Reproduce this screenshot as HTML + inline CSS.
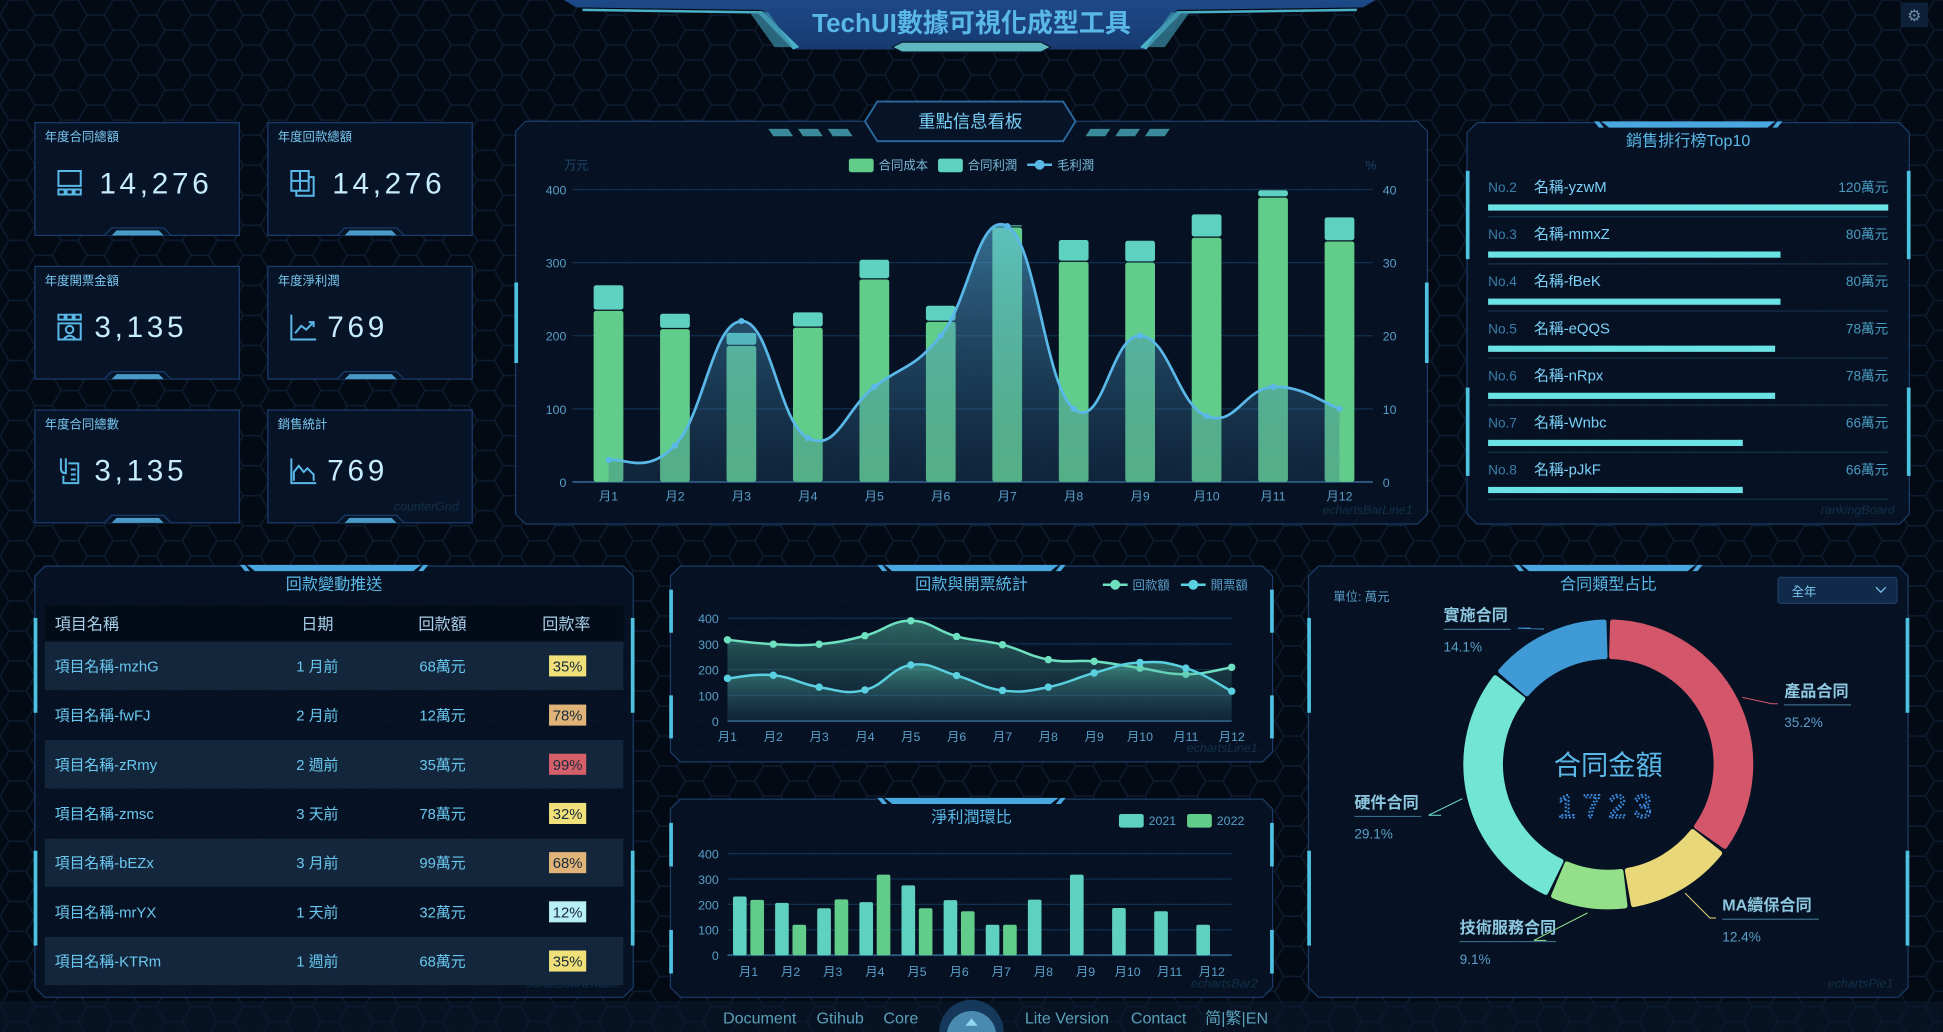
<!DOCTYPE html>
<html><head><meta charset="utf-8"><title>TechUI</title>
<style>
html,body{margin:0;padding:0;background:#040a14;overflow:hidden;width:1943px;height:1032px}
svg{display:block}
text{font-family:"Liberation Sans","Noto Sans CJK TC",sans-serif}
</style></head>
<body>
<svg id="root" width="1943" height="1032" viewBox="0 0 1568 833" xmlns="http://www.w3.org/2000/svg">
<defs>
<pattern id="hex" width="42" height="24.25" patternUnits="userSpaceOnUse">
<path d="M0 12.1 L7 0 L21 0 L28 12.1 L21 24.25 L7 24.25 Z M28 12.1 L42 12.1" fill="none" stroke="#0d1c30" stroke-width="1.2"/>
</pattern>
<linearGradient id="areaMain" x1="0" y1="0" x2="0" y2="1"><stop offset="0" stop-color="#5ab8e8" stop-opacity="0.55"/><stop offset="1" stop-color="#2a5a80" stop-opacity="0.25"/></linearGradient>
<linearGradient id="areaLine" x1="0" y1="0" x2="0" y2="1"><stop offset="0" stop-color="#5fd1b0" stop-opacity="0.45"/><stop offset="1" stop-color="#2a5070" stop-opacity="0.15"/></linearGradient>
<linearGradient id="hdr" x1="0" y1="0" x2="0" y2="1"><stop offset="0" stop-color="#1d4a88"/><stop offset="1" stop-color="#173a70"/></linearGradient>
</defs>
<rect x="0" y="0" width="1568" height="833" fill="#040a14"/>
<rect x="0" y="0" width="1568" height="833" fill="url(#hex)"/>
<rect x="0" y="808" width="1568" height="25" fill="#0a1a30" opacity="0.5"/>

<g>
<path d="M455 0 L1110 0 L1100 6 L950 8 L925 40 L640 40 L615 8 L465 6 Z" fill="url(#hdr)"/>
<path d="M470 7 L615 9 L645 38 L640 40 L612 11 L470 9 Z" fill="#4ab0c8"/>
<path d="M1095 7 L950 9 L920 38 L925 40 L953 11 L1095 9 Z" fill="#4ab0c8"/>
<path d="M605 10 L620 10 L640 38 L625 38 Z" fill="#3c8ea8" opacity="0.7"/>
<path d="M960 10 L945 10 L925 38 L940 38 Z" fill="#3c8ea8" opacity="0.7"/>
<path d="M720 38 L728 34 L840 34 L848 38 L840 42 L728 42 Z" fill="#5fb8c0" stroke="#0a1a30"/>
<text x="784" y="26" text-anchor="middle" font-size="21" fill="#5ab8e8" font-weight="bold">TechUI數據可視化成型工具</text>
</g>
<g><rect x="1534" y="2" width="22" height="20" fill="#0e2038"/><text x="1545" y="17" text-anchor="middle" font-size="13" fill="#6a8aa8">⚙</text></g>

<g id="cards"></g>
<g id="mainPanel"></g>
<g id="rankPanel"></g>
<g id="tablePanel"></g>
<g id="linePanel"></g>
<g id="bar2Panel"></g>
<g id="piePanel"></g>

<g>
<text x="613" y="826" text-anchor="middle" font-size="13" fill="#5aa0b8">Document</text>
<text x="678" y="826" text-anchor="middle" font-size="13" fill="#5aa0b8">Gtihub</text>
<text x="727" y="826" text-anchor="middle" font-size="13" fill="#5aa0b8">Core</text>
<circle cx="784" cy="833" r="26" fill="#16385a"/>
<circle cx="784" cy="836" r="20" fill="#4a8ab0"/>
<path d="M779 828 L784 822 L789 828 Z" fill="#8fd8f0"/>
<text x="861" y="826" text-anchor="middle" font-size="13" fill="#5aa0b8">Lite Version</text>
<text x="935" y="826" text-anchor="middle" font-size="13" fill="#5aa0b8">Contact</text>
<text x="998" y="826" text-anchor="middle" font-size="13" fill="#5aa0b8">简|繁|EN</text>
</g>
</svg>

<script>
const months = ['月1','月2','月3','月4','月5','月6','月7','月8','月9','月10','月11','月12'];
const costValues = [234,209,186,211,277,219,348,301,300,334,389,329];
const profitValues = [35,21,18,21,27,22,3,30,30,32,10,33];
const marginValues = [3,5,22,6,13,20,35,10,20,9,13,10];
const leftTicks = [0,100,200,300,400];
const rightTicks = [0,10,20,30,40];
const paybackValues = [316,299,299,332,390,329,297,239,232,206,182,209];
const invoiceValues = [166,178,132,121,218,177,119,132,187,228,206,116];
const lineTicks = [0,100,200,300,400];
const net2021 = [231,206,185,209,275,217,120,219,317,186,173,120];
const net2022 = [218,120,220,317,185,173,120,0,0,0,0,0];
const rankNames = ['名稱-yzwM','名稱-mmxZ','名稱-fBeK','名稱-eQQS','名稱-nRpx','名稱-Wnbc','名稱-pJkF'];
const rankNos = ['No.2','No.3','No.4','No.5','No.6','No.7','No.8'];
const rankValues = [120,80,80,78,78,66,66];
const tableNames = ['項目名稱-mzhG','項目名稱-fwFJ','項目名稱-zRmy','項目名稱-zmsc','項目名稱-bEZx','項目名稱-mrYX','項目名稱-KTRm'];
const tableDates = ['1 月前','2 月前','2 週前','3 天前','3 月前','1 天前','1 週前'];
const tableAmounts = ['68萬元','12萬元','35萬元','78萬元','99萬元','32萬元','68萬元'];
const tableRates = [35,78,99,32,68,12,35];
const pieNames = ['產品合同','MA續保合同','技術服務合同','硬件合同','實施合同'];
const pieValues = [35.2,12.4,9.1,29.1,14.1];
const cardTitles = ['年度合同總額','年度回款總額','年度開票金額','年度淨利潤','年度合同總數','銷售統計'];
const cardValues = ['14,276','14,276','3,135','769','3,135','769'];

const NS='http://www.w3.org/2000/svg';
function E(tag,attrs,parent,txt){const e=document.createElementNS(NS,tag);for(const k in attrs)e.setAttribute(k,attrs[k]);if(txt!==undefined)e.textContent=txt;parent.appendChild(e);return e;}
function smooth(pts){let d='M'+pts[0][0]+' '+pts[0][1];for(let i=0;i<pts.length-1;i++){const p0=pts[i-1]||pts[i],p1=pts[i],p2=pts[i+1],p3=pts[i+2]||p2;const t=0.22;const c1=[p1[0]+(p2[0]-p0[0])*t,p1[1]+(p2[1]-p0[1])*t];const c2=[p2[0]-(p3[0]-p1[0])*t,p2[1]-(p3[1]-p1[1])*t];d+=' C'+c1[0]+' '+c1[1]+' '+c2[0]+' '+c2[1]+' '+p2[0]+' '+p2[1];}return d;}

function panel(g,x,y,w,h,title,name,wm,midOnly){
  const p=E('path',{d:`M${x+8} ${y} L${x+w-8} ${y} L${x+w} ${y+8} L${x+w} ${y+h-8} L${x+w-8} ${y+h} L${x+8} ${y+h} L${x} ${y+h-8} L${x} ${y+8} Z`,fill:'#071326','fill-opacity':'0.88',stroke:'#1b3c68','stroke-width':'1'},g);
  
  
  if(midOnly){
    E('rect',{x:x-1,y:y+h*0.4,width:3,height:h*0.2,fill:'#4ec0e0'},g);
    E('rect',{x:x+w-2,y:y+h*0.4,width:3,height:h*0.2,fill:'#4ec0e0'},g);
  } else {
  E('rect',{x:x-1,y:y+h*0.12,width:3,height:h*0.22,fill:'#4ec0e0'},g);
  E('rect',{x:x+w-2,y:y+h*0.12,width:3,height:h*0.22,fill:'#4ec0e0'},g);
  E('rect',{x:x-1,y:y+h*0.66,width:3,height:h*0.22,fill:'#4ec0e0'},g);
  E('rect',{x:x+w-2,y:y+h*0.66,width:3,height:h*0.22,fill:'#4ec0e0'},g);
  }
  if(title){const cx=x+w/2;
    E('path',{d:`M${cx-70} ${y-1} L${cx+70} ${y-1} L${cx+64} ${y+4} L${cx-64} ${y+4} Z`,fill:'#4aa8e0'},g);
    E('path',{d:`M${cx-76} ${y-1} L${cx-72} ${y-1} L${cx-68} ${y+4} L${cx-72} ${y+4} Z M${cx+76} ${y-1} L${cx+72} ${y-1} L${cx+68} ${y+4} L${cx+72} ${y+4} Z`,fill:'#4aa8e0'},g);
    const t=E('text',{x:cx,y:y+19,'text-anchor':'middle','font-size':13,fill:'#5ab8e8'},g,title);
    
    
  }
  if(wm){E('text',{x:x+w-12,y:y+h-8,'text-anchor':'end','font-size':10,'font-style':'italic',fill:'#14304a'},g,wm);}
}

(function(){
  const g=document.getElementById('cards');
  const xs=[28,216],ys=[99,215,331];
  const icons=[
    'M0 0 H18 V12 H0 Z M0 15 H5 V19 H0 Z M6.5 15 H11.5 V19 H6.5 Z M13 15 H18 V19 H13 Z',
    'M0 0 H14 V5 H18 V20 H4 V16 H0 Z M0 8 H14 M7 0 V16 M4 16 H14 V5',
    'M0 0 H5 V4 H0 Z M6.5 0 H11.5 V4 H6.5 Z M13 0 H18 V4 H13 Z M0 7 H18 V20 H0 Z M6 12 A3 3 0 1 0 12 12 A3 3 0 1 0 6 12 M4 20 Q9 14 14 20',
    'M0 0 V20 H20 M3 15 L8 9 L12 12 L18 6 M14 6 H18 V10',
    'M2 0 V8 Q2 12 6 12 V0 M8 4 H16 V20 H4 V14 M10 9 H14 M10 13 H14 M10 17 H14',
    'M0 0 V20 H20 M2 18 V11 L6 6 L10 11 L13 8 L18 13 V18'
  ];
  for(let i=0;i<6;i++){
    const x=xs[i%2],y=ys[Math.floor(i/2)];
    const c=E('g',{},g);
    
    
    E('rect',{x:x,y:y,width:165,height:91,fill:'#071428',stroke:'#1a3c6a'},c);
    E('path',{d:`M${x+56} ${y+91} L${x+62} ${y+85} L${x+104} ${y+85} L${x+110} ${y+91}`,fill:'#071428',stroke:'#1a3c6a'},c);
    E('path',{d:`M${x+62} ${y+91} L${x+66} ${y+87} L${x+100} ${y+87} L${x+104} ${y+91} Z`,fill:'#4a9ac8'},c);
    const t=E('text',{x:x+8,y:y+15,'font-size':10,fill:'#7ac8f0'},c,cardTitles[i]);
    
    
    const ic=E('path',{d:icons[i],transform:`translate(${x+19},${y+39})`,fill:'none',stroke:'#5ab8e8','stroke-width':1.6},c);
    
    
    const v=E('text',{x:x+(i<2?52:48),y:y+57,'font-size':24,fill:'#c8ecff','letter-spacing':3,'font-family':'"DejaVu Sans",sans-serif'},c,cardValues[i]);
    
    
  }
  E('text',{x:370,y:412,'text-anchor':'end','font-size':10,'font-style':'italic',fill:'#14304a'},g,'counterGrid');
})();

(function(){
  const g=document.getElementById('mainPanel');
  panel(g,416,98,736,325,null,'main-panel','echartsBarLine1',true);
  E('path',{d:'M708 82 L858 82 L868 98 L858 114 L708 114 L698 98 Z',fill:'#071326',stroke:'#2a6aa0','stroke-width':1.5},g);
  E('path',{d:'M620 104 L636 104 L640 110 L624 110 Z M644 104 L660 104 L664 110 L648 110 Z M668 104 L684 104 L688 110 L672 110 Z',fill:'#3a8a9a'},g);
  E('path',{d:'M880 104 L896 104 L892 110 L876 110 Z M904 104 L920 104 L916 110 L900 110 Z M928 104 L944 104 L940 110 L924 110 Z',fill:'#3a8a9a'},g);
  const tt=E('text',{x:783,y:103,'text-anchor':'middle','font-size':14,fill:'#7ad0f8'},g,'重點信息看板');
  
  
  const x0=491,dx=53.64,yb=389,H=236;
  const X=i=>x0+i*dx, YL=v=>yb-v/400*H, YR=v=>yb-v/40*H;
  leftTicks.forEach(v=>{E('line',{x1:462,x2:1108,y1:YL(v),y2:YL(v),stroke:'#13304e','stroke-width':1},g);
    E('text',{x:457,y:YL(v)+4,'text-anchor':'end','font-size':10,fill:'#5a9ec8'},g,v);});
  rightTicks.forEach(v=>{E('text',{x:1116,y:YR(v)+4,'font-size':10,fill:'#5a9ec8'},g,v);});
  E('line',{x1:462,x2:1108,y1:yb,y2:yb,stroke:'#2a5a80','stroke-width':1.5},g);
  E('text',{x:455,y:137,'font-size':10,fill:'#1d4668'},g,'万元');
  E('text',{x:1102,y:137,'font-size':10,fill:'#1d4668'},g,'%');
  months.forEach((m,i)=>{const t=E('text',{x:X(i),y:404,'text-anchor':'middle','font-size':10,fill:'#5a9ec8'},g,m);
    
    });
  months.forEach((m,i)=>{
    const bw=24;
    const c=E('rect',{x:X(i)-bw/2,y:YL(costValues[i]),width:bw,height:YL(0)-YL(costValues[i]),fill:'#62cc8a',rx:2},g);
    
    
    const p=E('rect',{x:X(i)-bw/2,y:YL(costValues[i]+profitValues[i]),width:bw,height:YL(costValues[i])-YL(costValues[i]+profitValues[i])-1,fill:'#5fd1c0',rx:2},g);
    
    
  });
  const pts=marginValues.map((v,i)=>[X(i),YR(v)]);
  const d=smooth(pts);
  const a=E('path',{d:d+` L${X(11)} ${yb} L${X(0)} ${yb} Z`,fill:'url(#areaMain)'},g);
  
  
  const l=E('path',{d:d,fill:'none',stroke:'#5ab8e8','stroke-width':2.2},g);
  
  
  pts.forEach(p=>{const c=E('circle',{cx:p[0],cy:p[1],r:2.5,fill:'#5ab8e8'},g);
    
    });
  const lg=E('g',{},g);
  
  
  E('rect',{x:685,y:128,width:20,height:11,rx:2,fill:'#62cc8a'},lg);
  E('text',{x:709,y:137,'font-size':10,fill:'#7ab8d8'},lg,'合同成本');
  E('rect',{x:757,y:128,width:20,height:11,rx:2,fill:'#5fd1c0'},lg);
  E('text',{x:781,y:137,'font-size':10,fill:'#7ab8d8'},lg,'合同利潤');
  E('line',{x1:829,x2:849,y1:133,y2:133,stroke:'#5ab8e8','stroke-width':2},lg);
  E('circle',{cx:839,cy:133,r:4,fill:'#5ab8e8'},lg);
  E('text',{x:853,y:137,'font-size':10,fill:'#7ab8d8'},lg,'毛利潤');
})();

(function(){
  const g=document.getElementById('rankPanel');
  panel(g,1184,99,357,324,'銷售排行榜Top10','ranking-panel','rankingBoard');
  rankNames.forEach((n,i)=>{
    const y=151+i*38;
    const r=E('g',{},g);
    
    
    E('text',{x:1201,y:y+4,'font-size':11,fill:'#3a7ea8'},r,rankNos[i]);
    E('text',{x:1238,y:y+4,'font-size':12,fill:'#7ad0f8'},r,n);
    E('text',{x:1524,y:y+4,'text-anchor':'end','font-size':11,fill:'#4a9ac0'},r,rankValues[i]+'萬元');
    const b=E('rect',{x:1201,y:y+14,width:62+rankValues[i]*2.175,height:5,fill:'#6ae2e6'},r);
    
    
    E('line',{x1:1201,x2:1524,y1:y+24,y2:y+24,stroke:'#15304a'},r);
  });
})();

(function(){
  const g=document.getElementById('tablePanel');
  panel(g,28,457,483,348,'回款變動推送','payback-table-panel','scrollBoardTable');
  E('rect',{x:36,y:489,width:467,height:28,fill:'#040b18'},g);
  const hx=[44,256,357,457],hs=['項目名稱','日期','回款額','回款率'];
  hs.forEach((h,i)=>{const t=E('text',{x:hx[i],y:508,'text-anchor':i?'middle':'start','font-size':13,fill:'#a8d0ea'},g,h);
    
    });
  const badge=r=>r>=90?'#d6606a':r>=60?'#e0b478':r>=30?'#f0e07a':'#b8eef6';
  tableNames.forEach((n,i)=>{
    const y=518+i*39.7;
    const row=E('g',{},g);
    
    
    if(i%2===0)E('rect',{x:36,y:y,width:467,height:39,fill:'#15293e','fill-opacity':0.9},row);
    E('text',{x:44,y:y+24,'font-size':12,fill:'#6ac8f0'},row,n);
    E('text',{x:256,y:y+24,'text-anchor':'middle','font-size':12,fill:'#6ac8f0'},row,tableDates[i]);
    E('text',{x:357,y:y+24,'text-anchor':'middle','font-size':12,fill:'#6ac8f0'},row,tableAmounts[i]);
    E('rect',{x:443,y:y+11,width:30,height:17,fill:badge(tableRates[i])},row);
    E('text',{x:458,y:y+24,'text-anchor':'middle','font-size':12,fill:'#1a2a3a'},row,tableRates[i]+'%');
  });
})();

(function(){
  const g=document.getElementById('linePanel');
  panel(g,541,457,486,158,'回款與開票統計','line-panel','echartsLine1');
  const X=i=>587+i*37, Y=v=>582-v/400*83;
  lineTicks.forEach(v=>{E('line',{x1:587,x2:994,y1:Y(v),y2:Y(v),stroke:'#13304e'},g);
    E('text',{x:580,y:Y(v)+4,'text-anchor':'end','font-size':10,fill:'#5a9ec8'},g,v);});
  E('line',{x1:587,x2:994,y1:582,y2:582,stroke:'#2a5a80','stroke-width':1.5},g);
  months.forEach((m,i)=>E('text',{x:X(i),y:598,'text-anchor':'middle','font-size':10,fill:'#5a9ec8'},g,m));
  [[paybackValues,'#6ee0c0','payback'],[invoiceValues,'#5ad0e0','invoice']].forEach(s=>{
    const pts=s[0].map((v,i)=>[X(i),Y(v)]);const d=smooth(pts);
    const a=E('path',{d:d+` L${X(11)} 582 L${X(0)} 582 Z`,fill:'url(#areaLine)'},g);
    
    
    const l=E('path',{d:d,fill:'none',stroke:s[1],'stroke-width':2},g);
    
    
    pts.forEach(p=>{const c=E('circle',{cx:p[0],cy:p[1],r:3,fill:s[1]},g);
      
      });
  });
  const lg=E('g',{},g);
  
  
  E('line',{x1:890,x2:910,y1:472,y2:472,stroke:'#6ee0c0','stroke-width':2},lg);E('circle',{cx:900,cy:472,r:4,fill:'#6ee0c0'},lg);
  E('text',{x:914,y:476,'font-size':10,fill:'#5a9ec8'},lg,'回款額');
  E('line',{x1:953,x2:973,y1:472,y2:472,stroke:'#5ad0e0','stroke-width':2},lg);E('circle',{cx:963,cy:472,r:4,fill:'#5ad0e0'},lg);
  E('text',{x:977,y:476,'font-size':10,fill:'#5a9ec8'},lg,'開票額');
})();

(function(){
  const g=document.getElementById('bar2Panel');
  panel(g,541,645,486,160,'淨利潤環比','net-profit-panel','echartsBar2');
  const X=i=>604+i*34, Y=v=>771-v/400*82;
  lineTicks.forEach(v=>{E('line',{x1:587,x2:994,y1:Y(v),y2:Y(v),stroke:'#13304e'},g);
    E('text',{x:580,y:Y(v)+4,'text-anchor':'end','font-size':10,fill:'#5a9ec8'},g,v);});
  E('line',{x1:587,x2:994,y1:771,y2:771,stroke:'#2a5a80','stroke-width':1.5},g);
  months.forEach((m,i)=>E('text',{x:X(i),y:788,'text-anchor':'middle','font-size':10,fill:'#5a9ec8'},g,m));
  months.forEach((m,i)=>{
    const a=E('rect',{x:X(i)-12.5,y:Y(net2021[i]),width:11,height:Y(0)-Y(net2021[i]),rx:1.5,fill:'#5fd1c0'},g);
    
    
    if(net2022[i]>0){const b=E('rect',{x:X(i)+1.5,y:Y(net2022[i]),width:11,height:Y(0)-Y(net2022[i]),rx:1.5,fill:'#62cc8a'},g);
    
    }
  });
  const lg=E('g',{},g);
  
  
  E('rect',{x:903,y:657,width:20,height:11,rx:2,fill:'#5fd1c0'},lg);E('text',{x:927,y:666,'font-size':10,fill:'#5a9ec8'},lg,'2021');
  E('rect',{x:958,y:657,width:20,height:11,rx:2,fill:'#62cc8a'},lg);E('text',{x:982,y:666,'font-size':10,fill:'#5a9ec8'},lg,'2022');
})();

(function(){
  const g=document.getElementById('piePanel');
  panel(g,1056,457,484,348,'合同類型占比','contract-type-panel','echartsPie1');
  E('text',{x:1076,y:485,'font-size':10,fill:'#5a9ec8'},g,'單位: 萬元');
  const dd=E('g',{},g);
  
  
  E('rect',{x:1435,y:466,width:96,height:21,rx:2,fill:'#112a4a',stroke:'#1d3c64'},dd);
  E('text',{x:1446,y:481,'font-size':10,fill:'#7ac8f0'},dd,'全年');
  E('path',{d:'M1514 474 L1518 478 L1522 474',fill:'none',stroke:'#7ac8f0','stroke-width':1},dd);
  const colors=['#d4566b','#e8d87a','#94e08a','#72e5d5','#3f9ad6'];
  const cx=1298,cy=617,R=115,r=87,tot=pieValues.reduce((a,b)=>a+b,0);
  let ang=0;
  const P=(rad,a)=>[cx+rad*Math.sin(a),cy-rad*Math.cos(a)];
  const labels=[[1440,558,'start'],[1390,731,'start'],[1178,749,'start'],[1093,648,'start'],[1165,497,'start']];
  pieValues.forEach((v,i)=>{
    const a0=ang+0.03,a1=ang+v/tot*2*Math.PI-0.03;ang+=v/tot*2*Math.PI;
    const big=(a1-a0)>Math.PI?1:0;
    const p1=P(R,a0),p2=P(R,a1),p3=P(r,a1),p4=P(r,a0);
    const s=E('path',{d:`M${p1[0]} ${p1[1]} A${R} ${R} 0 ${big} 1 ${p2[0]} ${p2[1]} L${p3[0]} ${p3[1]} A${r} ${r} 0 ${big} 0 ${p4[0]} ${p4[1]} Z`,fill:colors[i],stroke:colors[i],'stroke-width':4,'stroke-linejoin':'round'},g);
    
    
    const mid=(a0+a1)/2,q=P(R+6,mid),L=labels[i];
    const lx=L[0]<cx?L[0]+60:L[0]-10;
    E('polyline',{points:`${q[0]},${q[1]} ${lx},${L[1]+10} ${L[0]<cx?L[0]+70:L[0]-5},${L[1]+10}`,fill:'none',stroke:colors[i],'stroke-width':0.8},g);
    const t=E('text',{x:L[0],y:L[1]+4,'font-size':13,'font-weight':'bold',fill:'#8ec8e0'},g,pieNames[i]);
    
    
    E('line',{x1:L[0],x2:L[0]+(pieNames[i].length>4?(pieNames[i].length*13):54),y1:L[1]+11,y2:L[1]+11,stroke:'#3a6a88'},g);
    E('text',{x:L[0],y:L[1]+29,'font-size':11,fill:'#5a9ec8'},g,v+'%');
  });
  E('text',{x:cx,y:cy+8,'text-anchor':'middle','font-size':22,fill:'#5ab8e8'},g,'合同金額');
  const n=E('text',{x:cx,y:cy+43,'text-anchor':'middle','font-size':26,fill:'none',stroke:'#3a8ae0','stroke-width':1.6,'stroke-dasharray':'1.5 1.5','letter-spacing':6,'font-family':'"DejaVu Sans Mono",monospace'},g,'1723');
  
  
})();
</script>
</body></html>
